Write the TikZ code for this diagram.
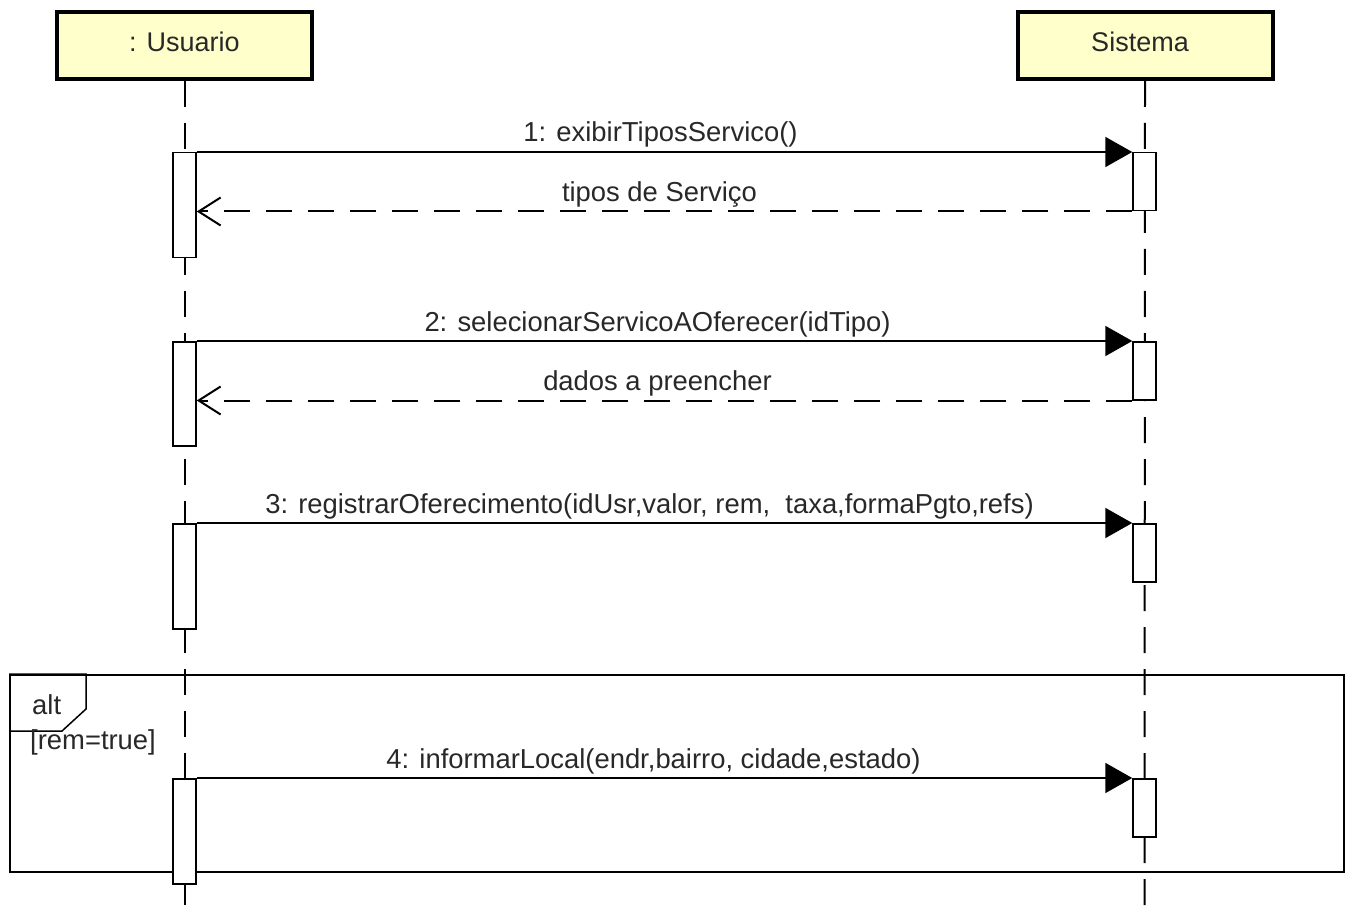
\documentclass[tikz,border=0pt]{standalone}
\usepackage{fontspec}
\setmainfont{Liberation Sans}
\usetikzlibrary{arrows.meta}
\definecolor{actfill}{RGB}{255,255,204}
\definecolor{txt}{RGB}{40,40,40}
\tikzset{
  actor/.style={draw=black, line width=4pt, fill=actfill, minimum width=255pt, minimum height=67pt, inner sep=0pt, text depth=8pt, text=txt, font=\fontsize{27}{30}\selectfont},
  lifeline/.style={draw=black, line width=2pt, dash pattern=on 26pt off 16pt},
  actbox/.style={draw=black, line width=1.5pt, fill=white, minimum width=23pt, inner sep=0pt, anchor=north},
  msg/.style={draw=black, line width=2pt, -{Triangle[length=27pt,width=30pt]}},
  ret/.style={draw=black, line width=2pt, dash pattern=on 26pt off 16pt, -{Straight Barb[length=22pt,width=28pt,line width=2pt]}},
  lbl/.style={anchor=base, text=txt, font=\fontsize{27.4}{30}\selectfont, inner sep=0pt},
  frm/.style={draw=black, line width=1.5pt},
}
\begin{document}
\begin{tikzpicture}[x=1pt,y=-1pt]
\path[fill=white] (0,0) rectangle (1349,909);
\useasboundingbox (0,0) rectangle (1349,909);
% actors
\node[actor] (usr) at (184.5,45.5) {: Usuario};
\node[actor] (sys) at (1145,45.5) {\hspace*{-10pt}Sistema};
% lifelines
\coordinate (uend) at (184.5,909);
\coordinate (send) at (1144.5,909);
\draw[lifeline] (usr.south) -- (uend);
\draw[lifeline] (sys.south) -- (send);
% alt frame
\node[frm, minimum width=1334pt, minimum height=197pt, anchor=north west, inner sep=0pt] (alt) at (9,674) {};
\draw[frm] (alt.north west) -- ++(77,0) -- ++(0,35) -- ++(-24,22) -- ++(-53,0);
\node[lbl, anchor=base west] (altlbl) at (32,714) {alt};
\node[lbl, anchor=base west] (guard) at (30,749) {[rem=true]};
% activations Usuario
\node[actbox, minimum height=105pt] (u1) at (184.5,152) {};
\node[actbox, minimum height=104pt] (u2) at (184.5,341) {};
\node[actbox, minimum height=105pt] (u3) at (184.5,523) {};
\node[actbox, minimum height=105pt] (u4) at (184.5,778) {};
% activations Sistema
\node[actbox, minimum height=58pt] (s1) at (1144.5,152) {};
\node[actbox, minimum height=58pt] (s2) at (1144.5,341) {};
\node[actbox, minimum height=58pt] (s3) at (1144.5,523) {};
\node[actbox, minimum height=58pt] (s4) at (1144.5,778) {};
% messages
\draw[msg] (u1.north east) -- node[lbl, midway, yshift=10pt, xshift=-4pt] {1: exibirTiposServico()} (s1.north west);
\draw[ret] (s1.south west) -- node[lbl, midway, yshift=10pt, xshift=-5pt] {tipos de Serviço} (u1.east |- s1.south west);
\draw[msg] (u2.north east) -- node[lbl, midway, yshift=10pt, xshift=-7pt] {2: selecionarServicoAOferecer(idTipo)} (s2.north west);
\draw[ret] (s2.south west) -- node[lbl, midway, yshift=10pt, xshift=-7pt] {dados a preencher} (u2.east |- s2.south west);
\draw[msg] (u3.north east) -- node[lbl, midway, yshift=10pt, xshift=-15pt] {3: registrarOferecimento(idUsr,valor, rem,\ \ taxa,formaPgto,refs)} (s3.north west);
\draw[msg] (u4.north east) -- node[lbl, midway, yshift=10pt, xshift=-11pt] {4: informarLocal(endr,bairro, cidade,estado)} (s4.north west);
\end{tikzpicture}
\end{document}
